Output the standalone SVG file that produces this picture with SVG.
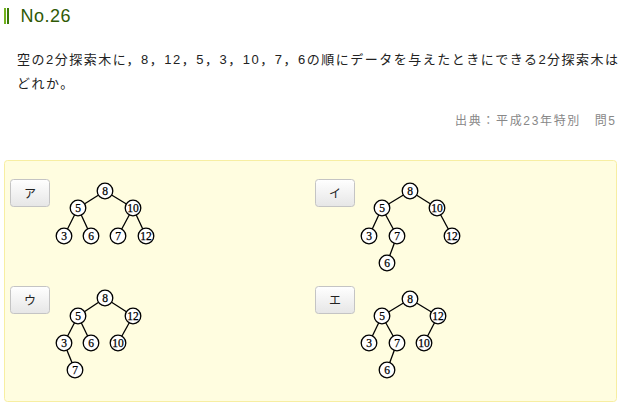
<svg xmlns="http://www.w3.org/2000/svg" width="626" height="412" viewBox="0 0 626 412">
<defs>
<linearGradient id="btn" x1="0" y1="0" x2="0" y2="1">
<stop offset="0" stop-color="#ffffff"/>
<stop offset="1" stop-color="#e6e6e6"/>
</linearGradient>
</defs>
<style>
.body{font-family:"Liberation Sans","Noto Sans CJK JP",sans-serif;font-size:13px;fill:#222}
.src{font-family:"Liberation Sans","Noto Sans CJK JP",sans-serif;font-size:12px;fill:#888}
.btn rect{fill:url(#btn);stroke:#c4c4c4;stroke-width:1}
.btn text{font-family:"Noto Sans CJK JP",sans-serif;font-size:12px;fill:#222;text-anchor:middle}
.n circle{fill:#fff;stroke:#000;stroke-width:1.3}
.n text{font-family:"Liberation Serif","DejaVu Serif",serif;font-size:11.5px;fill:#000;stroke:#000;stroke-width:0.25;text-anchor:middle}
#connectors line{stroke:#000;stroke-width:1.3}
</style>
<rect width="626" height="412" fill="#fff"/>
<g id="header">
<rect x="4" y="8" width="2" height="16" fill="#74b31e"/>
<rect x="7" y="8" width="2" height="16" fill="#3a7a08"/>
<text x="20.5" y="22" font-family="Liberation Sans, sans-serif" font-size="18" fill="#2f5a06" textLength="50">No.26</text>
</g>
<text class="body" x="17" y="64" letter-spacing="1.5">空の2分探索木に，8，12，5，3，10，7，6の順にデータを与えたときにできる2分探索木は</text>
<text class="body" x="17" y="88" letter-spacing="1.5">どれか。</text>
<text class="src" x="615" y="124.5" text-anchor="end" textLength="160">出典：平成23年特別　問5</text>
<rect id="panel" x="4.5" y="160.5" width="612" height="241" rx="3" fill="#fffde0" stroke="#f7eea2" stroke-width="1"/>
<g id="btn-a" class="btn"><rect x="10.5" y="179.5" width="39" height="27" rx="3"/><text x="30" y="197.5">ア</text></g>
<g id="btn-i" class="btn"><rect x="315.5" y="179.5" width="39" height="27" rx="3"/><text x="335" y="197.5">イ</text></g>
<g id="btn-u" class="btn"><rect x="10.5" y="286.5" width="39" height="27" rx="3"/><text x="30" y="304.5">ウ</text></g>
<g id="btn-e" class="btn"><rect x="315.5" y="286.5" width="39" height="27" rx="3"/><text x="335" y="304.5">エ</text></g>
<g id="connectors">
<line x1="105" y1="191" x2="78" y2="208"/><line x1="105" y1="191" x2="133" y2="208"/>
<line x1="78" y1="208" x2="64" y2="236"/><line x1="78" y1="208" x2="91" y2="236"/>
<line x1="133" y1="208" x2="118" y2="236"/><line x1="133" y1="208" x2="146" y2="236"/>
<line x1="410" y1="191" x2="382" y2="208"/><line x1="410" y1="191" x2="437" y2="208"/>
<line x1="382" y1="208" x2="369" y2="236"/><line x1="382" y1="208" x2="397" y2="236"/>
<line x1="437" y1="208" x2="452" y2="236"/><line x1="397" y1="236" x2="387" y2="263"/>
<line x1="105" y1="298" x2="78" y2="316"/><line x1="105" y1="298" x2="133" y2="316"/>
<line x1="78" y1="316" x2="64" y2="343"/><line x1="78" y1="316" x2="91" y2="343"/>
<line x1="133" y1="316" x2="118" y2="343"/><line x1="64" y1="343" x2="75" y2="370"/>
<line x1="410" y1="299" x2="382" y2="316"/><line x1="410" y1="299" x2="438" y2="316"/>
<line x1="382" y1="316" x2="369" y2="343"/><line x1="382" y1="316" x2="397" y2="343"/>
<line x1="438" y1="316" x2="424" y2="343"/><line x1="397" y1="343" x2="387" y2="370"/>
</g>
<g id="a8" class="n"><circle cx="105" cy="191" r="7.8"/><text x="105" y="195">8</text></g>
<g id="a5" class="n"><circle cx="78" cy="208" r="7.8"/><text x="78" y="212">5</text></g>
<g id="a10" class="n"><circle cx="133" cy="208" r="7.8"/><text x="133" y="212">10</text></g>
<g id="a3" class="n"><circle cx="64" cy="236" r="7.8"/><text x="64" y="240">3</text></g>
<g id="a6" class="n"><circle cx="91" cy="236" r="7.8"/><text x="91" y="240">6</text></g>
<g id="a7" class="n"><circle cx="118" cy="236" r="7.8"/><text x="118" y="240">7</text></g>
<g id="a12" class="n"><circle cx="146" cy="236" r="7.8"/><text x="146" y="240">12</text></g>
<g id="i8" class="n"><circle cx="410" cy="191" r="7.8"/><text x="410" y="195">8</text></g>
<g id="i5" class="n"><circle cx="382" cy="208" r="7.8"/><text x="382" y="212">5</text></g>
<g id="i10" class="n"><circle cx="437" cy="208" r="7.8"/><text x="437" y="212">10</text></g>
<g id="i3" class="n"><circle cx="369" cy="236" r="7.8"/><text x="369" y="240">3</text></g>
<g id="i7" class="n"><circle cx="397" cy="236" r="7.8"/><text x="397" y="240">7</text></g>
<g id="i12" class="n"><circle cx="452" cy="236" r="7.8"/><text x="452" y="240">12</text></g>
<g id="i6" class="n"><circle cx="387" cy="263" r="7.8"/><text x="387" y="267">6</text></g>
<g id="u8" class="n"><circle cx="105" cy="298" r="7.8"/><text x="105" y="302">8</text></g>
<g id="u5" class="n"><circle cx="78" cy="316" r="7.8"/><text x="78" y="320">5</text></g>
<g id="u12" class="n"><circle cx="133" cy="316" r="7.8"/><text x="133" y="320">12</text></g>
<g id="u3" class="n"><circle cx="64" cy="343" r="7.8"/><text x="64" y="347">3</text></g>
<g id="u6" class="n"><circle cx="91" cy="343" r="7.8"/><text x="91" y="347">6</text></g>
<g id="u10" class="n"><circle cx="118" cy="343" r="7.8"/><text x="118" y="347">10</text></g>
<g id="u7" class="n"><circle cx="75" cy="370" r="7.8"/><text x="75" y="374">7</text></g>
<g id="e8" class="n"><circle cx="410" cy="299" r="7.8"/><text x="410" y="303">8</text></g>
<g id="e5" class="n"><circle cx="382" cy="316" r="7.8"/><text x="382" y="320">5</text></g>
<g id="e12" class="n"><circle cx="438" cy="316" r="7.8"/><text x="438" y="320">12</text></g>
<g id="e3" class="n"><circle cx="369" cy="343" r="7.8"/><text x="369" y="347">3</text></g>
<g id="e7" class="n"><circle cx="397" cy="343" r="7.8"/><text x="397" y="347">7</text></g>
<g id="e10" class="n"><circle cx="424" cy="343" r="7.8"/><text x="424" y="347">10</text></g>
<g id="e6" class="n"><circle cx="387" cy="370" r="7.8"/><text x="387" y="374">6</text></g>
</svg>
